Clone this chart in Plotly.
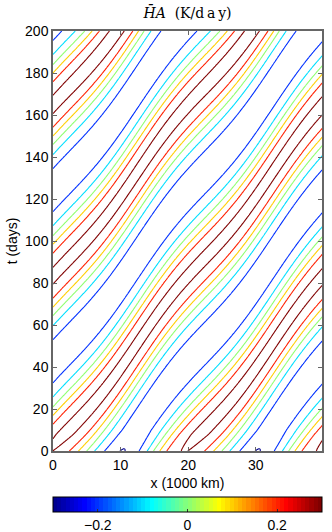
import numpy as np
import plotly.graph_objects as go

# ---- values ----
x_range = [0, 39.8]            # x (1000 km)
t_range = [0, 200]             # t (days)
x_ticks = [0, 10, 20, 30]
t_ticks = [0, 20, 40, 60, 80, 100, 120, 140, 160, 180, 200]
cbar_ticks = [-0.2, 0, 0.2]
cbar_labels = ["\u22120.2", "0", "0.2"]
levels = [-0.27, -0.18, -0.09, 0.0, 0.09, 0.18, 0.27]   # contour levels (K/day)
c_range = [-0.3, 0.3]

# time profile at x = 0, read from where each contour crosses the left axis
# (days from the crest, value in K/day)
profile_tau = [0.0, 3.0, 10.5, 15.25, 19.25, 23.25, 31.0, 40.75]
profile_val = [0.295, 0.272, 0.18, 0.09, 0.0, -0.09, -0.18, -0.25]

wavelength = 20.0              # 1000 km (two crests over the domain)
period = 81.5                  # days between crests at a fixed x
crest_t_x0 = 2.0               # time of the first crest at x = 0
speed_wiggle = 0.18            # relative phase-speed modulation along x
wiggle_x = 2.5                 # x where the crests travel fastest
crest_scale_t = [0, 8, 83, 165, 200]
crest_scale = [0.95, 1.0, 0.99, 1.0, 1.02]
trough_scale_t = [0, 10, 200]
trough_scale = [1.1, 1.0, 1.0]

# ---- build the field ----
x = np.linspace(0, 40, 401)
t = np.linspace(0, 200, 401)
X, T = np.meshgrid(x, t)
k = 2 * np.pi / wavelength
w = 2 * np.pi / period
psi = np.pi - k * wiggle_x
theta0 = w * crest_t_x0 - speed_wiggle * np.sin(psi)
theta = k * X - w * T + speed_wiggle * np.sin(k * X + psi) + theta0

# even cosine series through the read profile
ph = w * np.array(profile_tau)
nh = 5
M = np.stack([np.cos(n * ph) for n in range(nh)], axis=1)
coef, *_ = np.linalg.lstsq(M, np.array(profile_val), rcond=None)
F = sum(coef[n] * np.cos(n * theta) for n in range(nh))
p = np.interp(T, crest_scale_t, crest_scale)
q = np.interp(T, trough_scale_t, trough_scale)
Z = np.where(F > 0, F * p, F * q)

# MATLAB-style jet(64), stepped
def jet64():
    n = 16
    u = np.concatenate([np.arange(1, n + 1) / n, np.ones(n - 1), np.arange(n, 0, -1) / n])
    g = 8 + np.arange(1, len(u) + 1)
    J = np.zeros((64, 3))
    for ch, idxs in enumerate([g + n, g, g - n]):
        for idx, val in zip(idxs, u):
            if 1 <= idx <= 64:
                J[idx - 1, ch] = val
    return J

J = jet64()
scale = []
for i, c in enumerate(J):
    col = "rgb(%d,%d,%d)" % tuple(int(round(v * 255)) for v in c)
    scale.append([i / 64, col])
    scale.append([(i + 1) / 64, col])

fig = go.Figure()
fig.add_trace(go.Contour(
    x=x, y=t, z=Z,
    contours=dict(start=levels[0], end=levels[-1], size=levels[1] - levels[0], coloring="lines"),
    line=dict(width=1.1, smoothing=1),
    colorscale=scale, zmin=c_range[0], zmax=c_range[1], zauto=False,
    showscale=False, hoverinfo="skip",
))
fig.add_trace(go.Scatter(
    x=[20], y=[100], mode="markers", hoverinfo="skip", showlegend=False,
    marker=dict(color=[0], opacity=0, cmin=c_range[0], cmax=c_range[1], colorscale=scale,
                showscale=True,
                colorbar=dict(orientation="h", x=0.5, xanchor="center", y=-46 / 420, yanchor="top",
                              len=1, lenmode="fraction", thickness=15, thicknessmode="pixels",
                              outlinewidth=1, outlinecolor="black",
                              tickvals=cbar_ticks, ticktext=cbar_labels, ticks="inside",
                              ticklen=3, tickcolor="#333",
                              tickfont=dict(size=14, family="Liberation Sans", color="black"),
                              xpad=0, ypad=0)),
))

axis_common = dict(showline=True, linecolor="#666", linewidth=1.5, mirror="ticks",
                   ticks="inside", ticklen=4, tickcolor="#666", showgrid=False, zeroline=False,
                   automargin=False,
                   tickfont=dict(size=14, family="Liberation Sans", color="black"))
fig.update_xaxes(range=x_range, tickvals=x_ticks,
                 title=dict(text="x (1000 km)", font=dict(size=14, family="Liberation Sans", color="black"), standoff=7),
                 **axis_common)
fig.update_yaxes(range=t_range, tickvals=t_ticks,
                 title=dict(text="t (days)", font=dict(size=14, family="Liberation Sans", color="black"), standoff=4),
                 **axis_common)
fig.update_layout(
    width=332, height=532,
    margin=dict(l=53, r=10, t=31, b=81, autoexpand=False),
    paper_bgcolor="white", plot_bgcolor="white",
    title=dict(text="<i>H\u0304A</i>  (K/d\u2009a\u2009y)", x=0.5, xref="paper", xanchor="center",
               y=1 - 13 / 532, yanchor="middle",
               font=dict(size=14, family="DejaVu Serif", color="black")),
    showlegend=False,
)
fig.write_html("out.html", config={"displayModeBar": False},
               post_script="document.body.style.margin='0px';")
